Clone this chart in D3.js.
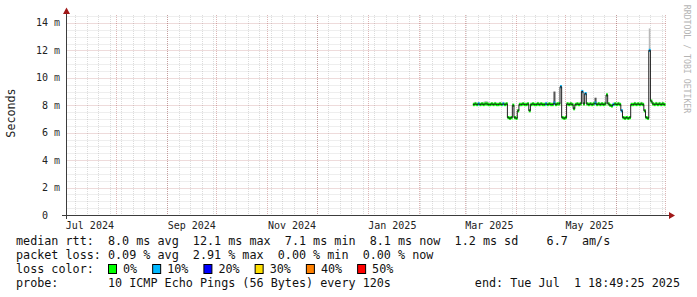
<!DOCTYPE html>
<html><head><meta charset="utf-8">
<script src="https://cdn.jsdelivr.net/npm/d3@7"></script>
<style>
body{margin:0;background:#fff}
svg{display:block}
text{font-family:"DejaVu Sans Mono",monospace}
</style>
</head><body>
<svg id="c" width="697" height="297"></svg>
<script>
// ---- data ----
const endTime = "2025-07-01T18:49:25Z";
const firstDay = "2025-03-06";   // one value per day from here on
const median = [
 8.05,8.10,8.05,8.10,8.05,8.10,8.05,8.10,8.10,8.05,8.05,8.10,8.05,8.10,8.05,8.05,8.10,8.05,8.10,8.05,8.10,
 7.10,7.05,7.10,8.00,7.10,7.05,7.60,
 8.05,8.05,8.10,8.05,8.05,8.10,7.60,8.05,
 8.10,8.05,8.05,8.10,8.05,8.10,8.05,8.05,8.10,8.05,8.10,8.05,8.05,
 8.15,8.05,8.10,8.10,9.35,7.10,7.05,7.10,
 8.10,8.05,8.10,8.05,7.75,8.05,8.10,8.05,8.10,9.00,8.10,8.85,8.10,
 8.05,8.10,8.05,8.10,8.15,8.05,8.10,8.05,8.10,8.05,8.10,8.75,8.10,8.00,7.95,8.05,8.10,
 8.05,8.10,8.05,7.60,7.10,7.05,7.10,7.05,7.10,
 8.05,8.05,8.10,8.05,8.10,8.05,8.10,8.05,7.60,7.10,7.05,12.00,
 8.30,8.10,8.05,8.10,8.05,8.10,8.05,8.10,8.05
];
const loss = [
 0,0,0,10,0,0,0,0,0,0,0,0,0,0,0,0,0,0,10,0,0,
 0,0,0,0,0,0,0,
 0,0,0,0,0,0,0,0,
 0,0,0,0,0,0,0,0,10,0,0,0,0,
 10,0,0,0,10,0,0,0,
 0,0,0,0,0,0,0,0,0,10,0,10,0,
 0,0,0,0,10,0,0,0,0,0,0,0,0,0,0,10,0,
 0,0,0,10,0,0,0,0,0,
 0,0,0,0,0,0,0,0,0,0,0,10,
 0,0,0,0,0,0,0,0,0
];
const smokeTop = [
 8.20,8.25,8.20,8.25,8.20,8.20,8.25,8.30,8.30,8.25,8.20,8.20,8.20,8.25,8.20,8.20,8.25,8.20,8.25,8.20,8.20,
 7.20,7.15,7.20,8.10,7.20,7.15,7.70,
 8.20,8.20,8.20,8.20,8.20,8.20,7.70,8.20,
 8.20,8.20,8.20,8.25,8.20,8.20,8.20,8.20,8.25,8.20,8.20,8.20,8.20,
 8.30,8.20,8.20,8.20,9.45,7.20,7.15,7.20,
 8.20,8.20,8.25,8.20,7.85,8.20,8.20,8.20,8.25,9.10,8.20,8.95,8.20,
 8.20,8.20,8.20,8.25,8.30,8.20,8.25,8.20,8.20,8.20,8.25,8.85,8.20,8.10,8.05,8.20,8.20,
 8.20,8.25,8.20,7.70,7.20,7.15,7.20,7.15,7.20,
 8.20,8.20,8.25,8.20,8.20,8.20,8.25,8.20,7.70,7.20,7.15,13.60,
 8.40,8.25,8.20,8.25,8.20,8.25,8.20,8.25,8.20
];
const darkSmokeDays = ["2025-04-24","2025-05-19"];
const darkSmokeTop = [9.0, 8.55];
const yTicks = [0,2,4,6,8,10,12,14];
const xLabelMonths = ["2024-07-01","2024-09-01","2024-11-01","2025-01-01","2025-03-01","2025-05-01"];
const lossLevels = ["0%","10%","20%","30%","40%","50%"];
const lossColors = ["#00ff00","#00b8ff","#0000ff","#ffe000","#ff8000","#ff0000"];
const lossThresholds = [0,10,20,30,40,50];
const legendRtt  = "median rtt:  8.0 ms avg  12.1 ms max  7.1 ms min  8.1 ms now  1.2 ms sd    6.7  am/s";
const legendLoss = "packet loss: 0.09 % avg  2.91 % max  0.00 % min  0.00 % now";
const legendColorTitle = "loss color:";
const legendProbe = "probe:       10 ICMP Echo Pings (56 Bytes) every 120s";
const legendEnd = "end: Tue Jul  1 18:49:25 2025";
const watermark = "RRDTOOL / TOBI OETIKER";

// ---- layout ----
const svg = d3.select("#c");
const L = 66.5, R = 666.5, T = 15, B = 215;
const end = new Date(endTime);
const start = new Date(end.getTime() - 365*86400000);
const x = d3.scaleUtc().domain([start, end]).range([L, R]);
const y = d3.scaleLinear().domain([0, 14.58]).range([B, T]);
const px = v => Math.round(v) + 0.5;

const days = d3.utcDay.range(new Date(firstDay+"T00:00:00Z"), d3.utcDay.offset(new Date(firstDay+"T00:00:00Z"), median.length));
const data = days.map((d,i)=>({d, m:median[i], l:loss[i], s:smokeTop[i]}));

// grid
const g = svg.append("g");
const minorCol = "rgba(140,140,140,0.30)", majorCol = "rgba(150,30,30,0.32)";
d3.range(0.5, 14.6, 0.5).filter(v => v % 2 !== 0).forEach(v=>{
  g.append("line").attr("x1",L).attr("x2",R).attr("y1",px(y(v))).attr("y2",px(y(v)))
   .attr("stroke",minorCol).attr("stroke-dasharray","1,1");
});
d3.utcSunday.range(start, end).forEach(d=>{
  g.append("line").attr("x1",px(x(d))).attr("x2",px(x(d))).attr("y1",T).attr("y2",B)
   .attr("stroke",minorCol).attr("stroke-dasharray","1,1");
});
yTicks.filter(v=>v>0).forEach(v=>{
  g.append("line").attr("x1",L).attr("x2",R).attr("y1",px(y(v))).attr("y2",px(y(v)))
   .attr("stroke",majorCol).attr("stroke-dasharray","1,1");
});
d3.utcMonth.range(start, end).forEach(d=>{
  g.append("line").attr("x1",px(x(d))).attr("x2",px(x(d))).attr("y1",T).attr("y2",B)
   .attr("stroke",majorCol).attr("stroke-dasharray","1,1");
});

// smoke
const dayW = d => x(d3.utcDay.offset(d,1)) - x(d);
svg.append("g").selectAll("rect").data(data).join("rect")
  .attr("x", d=>x(d.d)).attr("width", d=>dayW(d.d))
  .attr("y", d=>y(d.s)).attr("height", d=>Math.max(0, y(d.m) - y(d.s)))
  .attr("fill","#b8b8b8");
svg.append("g").selectAll("rect").data(darkSmokeDays.map((s,i)=>({d:new Date(s+"T00:00:00Z"), s:darkSmokeTop[i], m:median[d3.utcDay.count(new Date(firstDay+"T00:00:00Z"), new Date(s+"T00:00:00Z"))]})))
  .join("rect")
  .attr("x", d=>x(d.d)).attr("width", d=>dayW(d.d)+0.4)
  .attr("y", d=>y(d.s)).attr("height", d=>y(d.m)-y(d.s))
  .attr("fill","#555");

// loss coloured median band
const colorFor = l => { let c = lossColors[0]; lossThresholds.forEach((t,i)=>{ if (l>=t) c = lossColors[i]; }); return c; };
svg.append("g").selectAll("rect").data(data).join("rect")
  .attr("x", d=>x(d.d)).attr("width", d=>dayW(d.d)+0.3)
  .attr("y", d=>y(d.m)-1.6).attr("height", 3.2)
  .attr("fill", d=>colorFor(d.l));

// median line
const pts = data.map(d=>[d.d, d.m]);
pts.push([d3.utcDay.offset(data[data.length-1].d,1), data[data.length-1].m]);
svg.append("path").attr("d", d3.line().x(p=>x(p[0])).y(p=>y(p[1])).curve(d3.curveStepAfter)(pts))
  .attr("fill","none").attr("stroke","#202020").attr("stroke-width",1);

// axes
const axisCol = "#3c3c3c", arrowCol = "#a01818";
svg.append("line").attr("x1",62).attr("x2",671).attr("y1",B+0.5).attr("y2",B+0.5).attr("stroke",axisCol);
svg.append("line").attr("x1",66.5).attr("x2",66.5).attr("y1",219).attr("y2",11).attr("stroke",axisCol);
svg.append("path").attr("d","M669,212 L675,215.5 L669,219 Z").attr("fill",arrowCol);
svg.append("path").attr("d","M63,14 L66.5,7.5 L70,14 Z").attr("fill",arrowCol);

// y tick labels
yTicks.forEach(v=>{
  svg.append("text").attr("x",48).attr("y",y(v)+3.5).attr("text-anchor","end")
    .attr("font-size","10px").attr("fill","#222").text(String(v));
  if (v>0) svg.append("text").attr("x",54).attr("y",y(v)+3.5)
    .attr("font-size","10px").attr("fill","#333").text("m");
});
// x tick labels (centred half a month after the month start)
xLabelMonths.forEach(s=>{
  const d = new Date(s+"T00:00:00Z");
  const c = new Date(d.getTime() + 15*86400000);
  svg.append("text").attr("x",x(c)).attr("y",228.5).attr("text-anchor","middle")
    .attr("font-size","10px").attr("fill","#222").text(d3.utcFormat("%b %Y")(d));
});

// y title
svg.append("text").attr("transform","translate(15,113) rotate(-90)").attr("text-anchor","middle")
  .attr("font-size","11.7px").attr("fill","#222").text("Seconds");
// watermark
svg.append("text").attr("transform","translate(684,59) rotate(90)").attr("text-anchor","middle")
  .attr("font-size","8.2px").attr("fill","#b4b4b4").text(watermark);

// legend
const fs = "11.75px";
const lt = (txt, xx, yy, anchor) => svg.append("text").attr("x",xx).attr("y",yy)
   .attr("font-size",fs).attr("fill","#111").attr("text-anchor",anchor||"start")
   .style("white-space","pre").text(txt);
lt(legendRtt, 16, 245);
lt(legendLoss, 16, 259);
lt(legendColorTitle, 16, 273);
lt(legendProbe, 16, 287);
lt(legendEnd, 680, 287, "end");
const cw = 7.08;
let bx = 108;
lossLevels.forEach((lab,i)=>{
  svg.append("rect").attr("x",bx+0.5).attr("y",264.5).attr("width",8).attr("height",9)
    .attr("fill",lossColors[i]).attr("stroke","#000").attr("stroke-width",1);
  lt(lab, bx+15, 273);
  bx = bx + 15 + lab.length*cw + 15;
});
</script>
</body></html>
